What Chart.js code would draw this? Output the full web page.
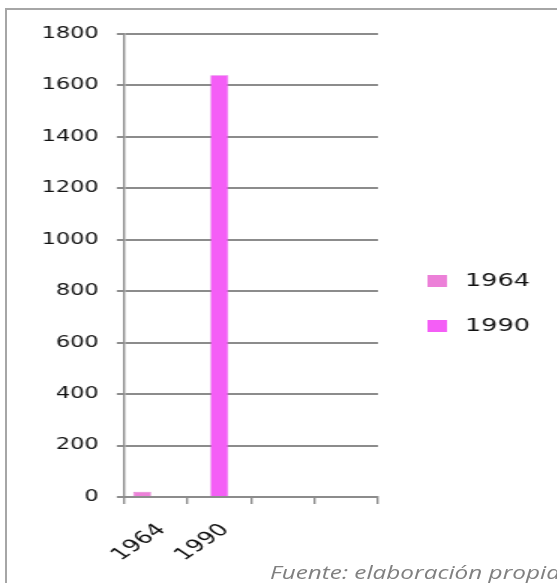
<!DOCTYPE html>
<html>
<head>
<meta charset="utf-8">
<script src="https://cdn.jsdelivr.net/npm/chart.js@4.4.7/dist/chart.umd.min.js"></script>
<style>
  html, body { margin: 0; padding: 0; background: #ffffff; overflow: hidden; }
  body { width: 557px; height: 583px; position: relative; }
  #frame {
    position: absolute; left: 5px; top: 8px; width: 700px; height: 700px;
    border: 2px solid #a6a6a6;
  }
  #wrap {
    position: absolute; left: 0; top: 0; width: 371px; height: 583px;
    transform: scaleX(1.5); transform-origin: 0 0;
  }
  #source {
    position: absolute; left: 270px; top: 563px; white-space: nowrap;
    font: italic 19px/19px "Open Sans", sans-serif; color: #808080;
    transform: scaleX(1.28); transform-origin: 0 0;
  }
</style>
</head>
<body>
<div id="frame"></div>
<div id="wrap"><canvas id="chart"></canvas></div>
<div id="source">Fuente: elaboración propia</div>
<script>
const categories = ["1964", "1990", "", ""];
const series1964 = [20, null, null, null];
const series1990 = [null, 1640, null, null];
const seriesBlank = [null, null, null, null];
const yTicks = [0, 200, 400, 600, 800, 1000, 1200, 1400, 1600, 1800];

const canvas = document.querySelector("#chart");
const gridColor = "#8c8c8c";
const labelFont = { family: "DejaVu Sans", size: 15 };

// the legend sits further from the plot than the built-in one allows
const sideLegend = {
  id: "sideLegend",
  afterDraw(chart, args, options) {
    const { ctx } = chart;
    ctx.save();
    ctx.font = `${options.size}px ${options.family}`;
    ctx.textBaseline = "middle";
    let row = 0;
    chart.data.datasets.forEach((dataset) => {
      if (!dataset.label) {
        return;
      }
      const y = options.top + row * options.step;
      ctx.fillStyle = dataset.backgroundColor;
      ctx.fillRect(options.left, y - 6, 13, 12);
      ctx.fillStyle = "#111111";
      ctx.fillText(dataset.label, options.left + 25, y + 1);
      row += 1;
    });
    ctx.restore();
  },
};

const chart = new Chart(canvas, {
  type: "bar",
  data: {
    labels: categories,
    datasets: [
      {
        label: "1964",
        data: series1964,
        backgroundColor: "#ec80d8",
        borderColor: "#d868c4",
        borderWidth: 0.6,
      },
      {
        label: "1990",
        data: series1990,
        backgroundColor: "#f45ef6",
        borderColor: "#d84cdc",
        borderWidth: 0.6,
      },
      {
        label: "",
        data: seriesBlank,
        backgroundColor: "#ffffff",
      },
    ],
  },
  options: {
    responsive: true,
    maintainAspectRatio: false,
    animation: false,
    categoryPercentage: 0.659,
    barPercentage: 1.286,
    layout: {
      padding: { left: 15.7, top: 34, right: 119, bottom: 2 },
    },
    plugins: {
      tooltip: { enabled: false },
      legend: { display: false },
      sideLegend: { left: 285, top: 281, step: 45, family: "DejaVu Sans", size: 17 },
    },
    scales: {
      x: {
        grid: {
          offset: true,
          drawOnChartArea: false,
          color: gridColor,
          tickLength: 7,
          lineWidth: 1.4,
        },
        border: { color: gridColor, width: 2 },
        ticks: {
          minRotation: 45,
          maxRotation: 45,
          padding: 16,
          labelOffset: 4,
          color: "#111111",
          font: { family: "DejaVu Sans", size: 17 },
        },
      },
      y: {
        min: 0,
        max: 1800,
        afterBuildTicks: (scale) => {
          scale.ticks = yTicks.map((value) => ({ value }));
        },
        grid: {
          color: gridColor,
          lineWidth: 2,
          tickLength: 5,
        },
        border: { color: gridColor, width: 1.4 },
        ticks: {
          padding: 12,
          color: "#111111",
          font: labelFont,
          callback: (value) => String(value),
        },
      },
    },
  },
  plugins: [sideLegend],
});
</script>
</body>
</html>
